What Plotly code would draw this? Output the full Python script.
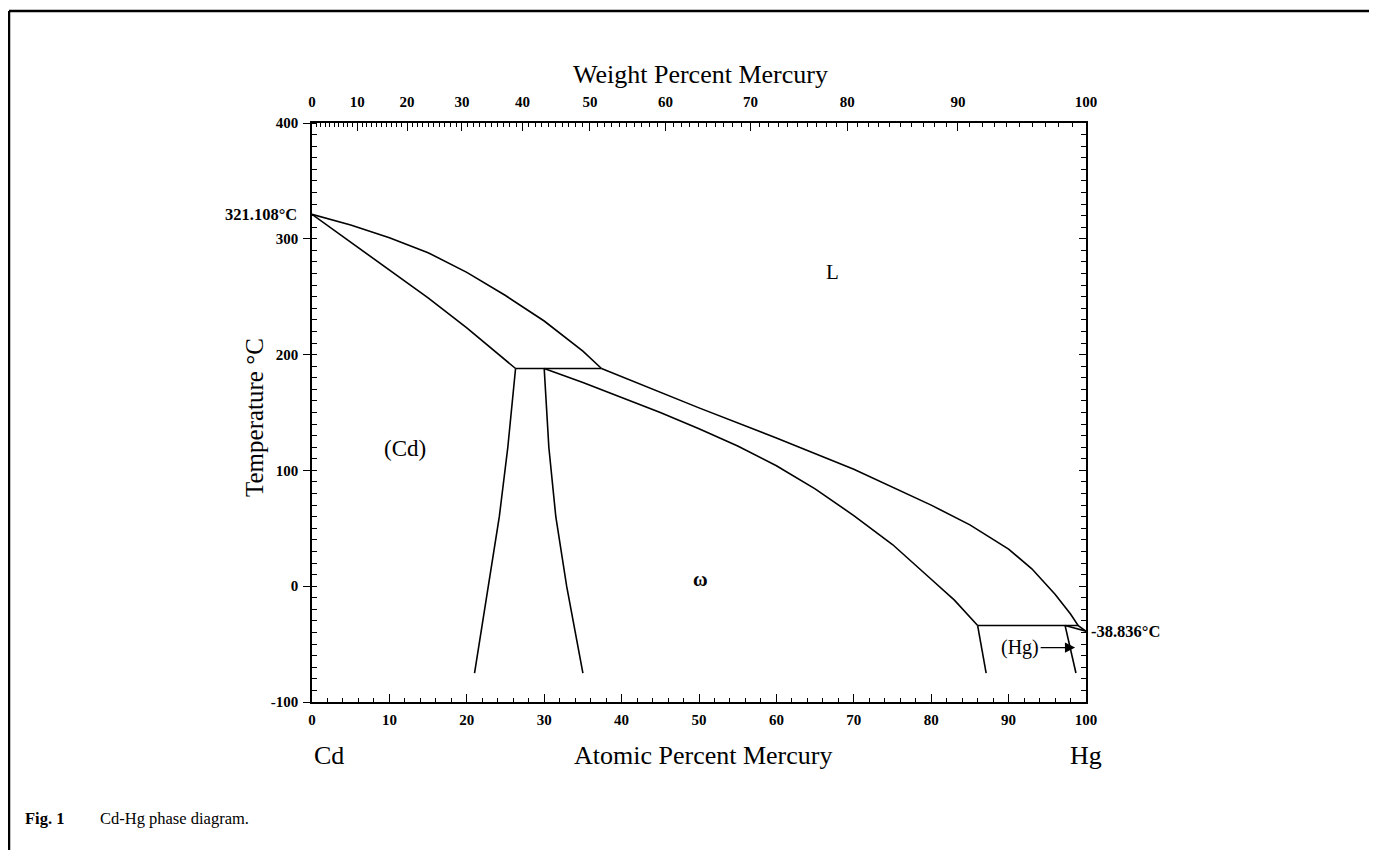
import plotly.graph_objects as go

# ---- data (atomic % Hg, temperature °C) ----
liq_cd_x = [0, 5, 10, 15, 20, 25, 30, 35, 37.4]
liq_cd_t = [321.108, 312, 301, 288, 271, 251, 229, 203, 188]

sol_cd_x = [0, 5, 10, 15, 20, 26.3]
sol_cd_t = [321.108, 297, 273, 249, 223, 188]

peri_x = [26.3, 37.4]
peri_t = [188, 188]

liq_hg_x = [37.4, 40, 50, 60, 70, 80, 85, 90, 93, 96, 98, 99, 100]
liq_hg_t = [188, 181, 154, 128, 101, 70, 53, 32, 15, -7, -24, -34, -38.836]

omega_sol_x = [30, 35, 40, 45, 50, 55, 60, 65, 70, 75, 80, 83, 86]
omega_sol_t = [188, 176, 163, 150, 136, 121, 104, 84, 61, 36, 6, -12, -34]

cd_solvus_x = [26.3, 25.3, 24.2, 22.8, 21.0]
cd_solvus_t = [188, 120, 60, 0, -75]

omega_left_x = [30.0, 30.6, 31.5, 32.9, 35.0]
omega_left_t = [188, 120, 60, 0, -75]

low_x = [86, 99]
low_t = [-34, -34]

omega_right_x = [86, 87.1]
omega_right_t = [-34, -75]

hg_solvus_x = [97.3, 98.7]
hg_solvus_t = [-34, -75]

hg_solidus_x = [97.3, 100]
hg_solidus_t = [-34, -38.836]

x_ticks = [0, 10, 20, 30, 40, 50, 60, 70, 80, 90, 100]
y_ticks = [-100, 0, 100, 200, 300, 400]
wt_ticks = [0, 10, 20, 30, 40, 50, 60, 70, 80, 90, 100]

M_HG = 200.59
M_CD = 112.41


def wt_to_at(w):
    if w >= 100:
        return 100.0
    a = (w / M_HG) / ((w / M_HG) + ((100 - w) / M_CD))
    return a * 100


FONT = "Liberation Serif"
LW = 1.6

# page body has an 8px margin; plot area placed at page px x 312-1086, y 123-702
OFF = 8
L_PX, R_PX, T_PX, B_PX = 312, 1086, 123, 702
PW, PH = R_PX - L_PX, B_PX - T_PX


def px(xp):
    return (xp - L_PX) / PW


def py(yp):
    return (B_PX - yp) / PH


fig = go.Figure()
segments = [
    (liq_cd_x, liq_cd_t), (sol_cd_x, sol_cd_t), (peri_x, peri_t),
    (liq_hg_x, liq_hg_t), (omega_sol_x, omega_sol_t),
    (cd_solvus_x, cd_solvus_t), (omega_left_x, omega_left_t),
    (low_x, low_t), (omega_right_x, omega_right_t),
    (hg_solvus_x, hg_solvus_t), (hg_solidus_x, hg_solidus_t),
]
for xs, ts in segments:
    fig.add_trace(go.Scatter(x=xs, y=ts, mode="lines",
                             line=dict(color="black", width=LW),
                             hoverinfo="skip", showlegend=False))

fig.add_trace(go.Scatter(x=[0, 100], y=[-100, 400], xaxis="x2", yaxis="y2",
                         mode="lines", line=dict(width=0), opacity=0,
                         hoverinfo="skip", showlegend=False))

tickfont = dict(family=FONT, size=15, color="black", weight="bold")

fig.update_layout(
    width=1377, height=850,
    margin=dict(l=L_PX - OFF, r=1377 - PW - (L_PX - OFF), t=T_PX - OFF,
                b=850 - PH - (T_PX - OFF), pad=0),
    paper_bgcolor="white", plot_bgcolor="white",
    xaxis=dict(range=[0, 100], tickvals=x_ticks,
               ticktext=[str(v) for v in x_ticks],
               showline=True, linecolor="black", linewidth=LW,
               ticks="inside", ticklen=8, tickwidth=1.3, tickcolor="black",
               ticklabelstandoff=3,
               minor=dict(ticks="inside", dtick=2, ticklen=4, tickwidth=1, tickcolor="black"),
               showgrid=False, zeroline=False, tickfont=tickfont),
    yaxis=dict(range=[-100, 400], tickvals=y_ticks,
               ticktext=[str(v) for v in y_ticks],
               showline=True, linecolor="black", linewidth=LW,
               ticks="outside", ticklen=7, tickwidth=1.3, tickcolor="black",
               ticklabelstandoff=2,
               minor=dict(ticks="inside", dtick=10, tick0=0, ticklen=5, tickwidth=1, tickcolor="black"),
               showgrid=False, zeroline=False, tickfont=tickfont),
    xaxis2=dict(range=[0, 100], overlaying="x", side="top", anchor="y",
                tickvals=[wt_to_at(w) for w in wt_ticks],
                ticktext=[str(w) for w in wt_ticks],
                showline=True, linecolor="black", linewidth=LW,
                ticks="inside", ticklen=8, tickwidth=1.3, tickcolor="black",
                ticklabelstandoff=8,
                minor=dict(ticks="inside", tickmode="array",
                           tickvals=[wt_to_at(w) for w in range(1, 100)],
                           ticklen=4, tickwidth=1, tickcolor="black"),
                showgrid=False, zeroline=False, tickfont=tickfont),
    yaxis2=dict(range=[-100, 400], overlaying="y", side="right", anchor="x",
                tickvals=y_ticks, showticklabels=False,
                showline=True, linecolor="black", linewidth=LW,
                ticks="inside", ticklen=7, tickwidth=1.3, tickcolor="black",
                minor=dict(ticks="inside", dtick=10, tick0=0, ticklen=5, tickwidth=1, tickcolor="black"),
                showgrid=False, zeroline=False),
    showlegend=False,
)

ann = []
txt = dict(family=FONT, color="black")
ann.append(dict(text="Weight Percent Mercury", x=px(700), y=py(75), xref="paper", yref="paper",
                xanchor="center", showarrow=False, font=dict(size=26, **txt), yanchor="middle"))
ann.append(dict(text="Atomic Percent Mercury", x=px(703), y=py(755), xref="paper", yref="paper",
                xanchor="center", showarrow=False, font=dict(size=26, **txt), yanchor="middle"))
ann.append(dict(text="Cd", x=px(312), y=py(755), xref="paper", yref="paper",
                xanchor="left", showarrow=False, font=dict(size=26, **txt), yanchor="middle"))
ann.append(dict(text="Hg", x=px(1086), y=py(755), xref="paper", yref="paper",
                xanchor="center", showarrow=False, font=dict(size=26, **txt), yanchor="middle"))
ann.append(dict(text="Temperature °C", x=px(254), y=py(418),
                xref="paper", yref="paper", textangle=-90,
                showarrow=False, font=dict(size=25, **txt), xanchor="center", yanchor="middle"))
ann.append(dict(text="321.108°C", x=px(299), y=321.108, xref="paper", yref="y",
                xanchor="right", yanchor="middle", showarrow=False,
                font=dict(size=16.5, weight="bold", **txt)))
ann.append(dict(text="-38.836°C", x=px(1089), y=-38.836, xref="paper", yref="y",
                xanchor="left", yanchor="middle", showarrow=False,
                font=dict(size=16.5, weight="bold", **txt)))
ann.append(dict(text="L", x=67.2, y=271, xref="x", yref="y", showarrow=False,
                font=dict(size=21, **txt)))
ann.append(dict(text="(Cd)", x=12.0, y=119, xref="x", yref="y", showarrow=False,
                font=dict(size=23, **txt)))
ann.append(dict(text="ω", x=50.2, y=6, xref="x", yref="y", showarrow=False,
                font=dict(size=20, weight="bold", **txt)))
ann.append(dict(text="(Hg)", x=98.6, y=-53, xref="x", yref="y", ax=-55, ay=0,
                showarrow=True, arrowhead=2, arrowsize=1.7, arrowwidth=1.2,
                arrowcolor="black", font=dict(size=20, **txt)))
# caption
ann.append(dict(text="<b>Fig. 1</b>", x=px(23), y=py(818),
                xref="paper", yref="paper", xanchor="left", yanchor="middle",
                showarrow=False, font=dict(size=16.5, **txt)))
ann.append(dict(text="Cd-Hg phase diagram.", x=px(98), y=py(818),
                xref="paper", yref="paper", xanchor="left", yanchor="middle",
                showarrow=False, font=dict(size=16.5, **txt)))
fig.update_layout(annotations=ann)

# outer frame (top and left edges)
fig.add_shape(type="line", xref="paper", yref="paper", x0=px(9), y0=py(11),
              x1=px(1385), y1=py(11), line=dict(color="black", width=2.5))
fig.add_shape(type="line", xref="paper", yref="paper", x0=px(9), y0=py(11),
              x1=px(9), y1=py(860), line=dict(color="black", width=2.5))

fig.write_html("out.html")
